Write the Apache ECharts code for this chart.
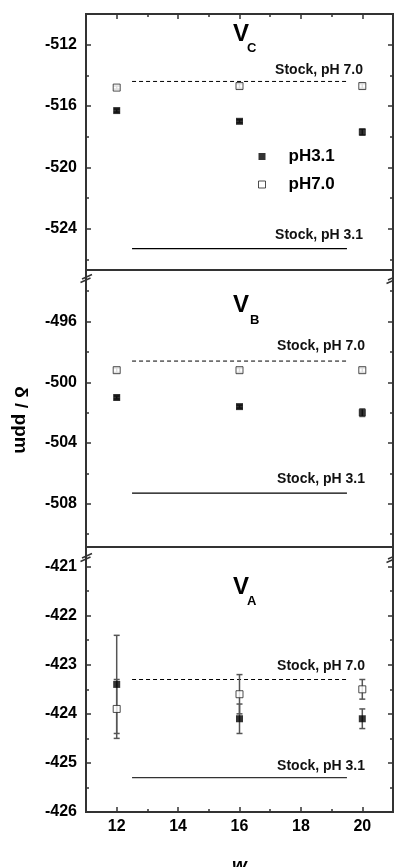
<!DOCTYPE html>
<html><head><meta charset="utf-8">
<script src="https://cdn.jsdelivr.net/npm/echarts@6/dist/echarts.min.js"></script>
<style>html,body{margin:0;padding:0;background:#fff}#c{width:394px;height:867px}</style>
</head><body><div id="c"></div>
<script>
// ---------- data ----------
const w0Values = [12, 16, 20];
const vcPH31 = [-516.3, -517.0, -517.7];
const vcPH31Err = [0.1, 0.1, 0.2];
const vcPH70 = [-514.8, -514.7, -514.7];
const vcPH70Err = [0.1, 0.15, 0.15];
const vbPH31 = [-501.0, -501.6, -502.0];
const vbPH31Err = [0.1, 0.1, 0.25];
const vbPH70 = [-499.2, -499.2, -499.2];
const vbPH70Err = [0.15, 0.15, 0.15];
const vaPH31 = [-423.4, -424.1, -424.1];
const vaPH31Err = [1.0, 0.3, 0.2];
const vaPH70 = [-423.9, -423.6, -423.5];
const vaPH70Err = [0.6, 0.4, 0.2];
const stockPH70 = [-514.4, -498.6, -423.3];
const stockPH31 = [-525.3, -507.3, -425.3];
const stockSpan = [12.5, 19.5];
const xTicks = [12, 14, 16, 18, 20];
const xMinorTicks = [13, 15, 17, 19];
const xRange = [11, 21];
const yTicksC = [-524, -520, -516, -512];
const yMinorC = [-526, -522, -518, -514];
const yRangeC = [-526.7, -510];
const yTicksB = [-508, -504, -500, -496];
const yMinorB = [-510, -506, -502, -498, -494];
const yRangeB = [-510.85, -492.6];
const yTicksA = [-426, -425, -424, -423, -422, -421];
const yMinorA = [-425.5, -424.5, -423.5, -422.5, -421.5];
const yRangeA = [-426, -420.6];
const panelLetters = ['C', 'B', 'A'];
const seriesNames = ['pH3.1', 'pH7.0'];
const stockLabels = ['Stock, pH 7.0', 'Stock, pH 3.1'];
const xTitle = 'w';
const xTitleSub = '0';
const yTitle = 'δ / ppm';

// ---------- layout / style ----------
const FONT = '"Liberation Sans", Arial, Helvetica, sans-serif';
const AX = '#333';
const panels = [
  {ph31: vcPH31, ph31Err: vcPH31Err, ph70: vcPH70, ph70Err: vcPH70Err, yRange: yRangeC, yTicks: yTicksC, yMinor: yMinorC,
   grid: {top: 14, height: 256}, vPos: [233, 34, 247, 48], stockTxt: [70, 235], stockRight: 363},
  {ph31: vbPH31, ph31Err: vbPH31Err, ph70: vbPH70, ph70Err: vbPH70Err, yRange: yRangeB, yTicks: yTicksB, yMinor: yMinorB,
   grid: {top: 270, height: 277}, vPos: [233, 305, 250, 320], stockTxt: [346, 479], stockRight: 365},
  {ph31: vaPH31, ph31Err: vaPH31Err, ph70: vaPH70, ph70Err: vaPH70Err, yRange: yRangeA, yTicks: yTicksA, yMinor: yMinorA,
   grid: {top: 547, height: 265}, vPos: [233, 587, 247, 601], stockTxt: [666, 766], stockRight: 365}
];

const grids = panels.map(p => ({
  left: 86, width: 307, top: p.grid.top, height: p.grid.height,
  show: true, borderColor: AX, borderWidth: 2, backgroundColor: 'transparent',
  containLabel: false, outerBoundsMode: 'none'
}));

const tickStyle = {color: AX, width: 1.5};
function xAx(gi, extra) {
  return Object.assign({
    type: 'value', gridIndex: gi, min: xRange[0], max: xRange[1],
    axisLine: {show: false}, splitLine: {show: false},
    axisTick: {show: false}, axisLabel: {show: false}
  }, extra);
}
function yAx(gi, p, extra) {
  return Object.assign({
    type: 'value', gridIndex: gi, min: p.yRange[0], max: p.yRange[1],
    axisLine: {show: false}, splitLine: {show: false},
    axisTick: {show: false}, axisLabel: {show: false}
  }, extra);
}

const xAxes = [];
panels.forEach((p, i) => {
  if (i === 2) {
    xAxes.push(xAx(i, {
      position: 'bottom',
      axisTick: {show: true, inside: true, length: 5, customValues: xTicks, lineStyle: tickStyle},
      axisLabel: {show: true, customValues: xTicks, margin: 7, color: '#000', fontSize: 16, fontWeight: 'bold', fontFamily: FONT}
    }));
  } else {
    xAxes.push(xAx(i, {position: 'bottom'}));
  }
});
xAxes.push(xAx(2, {position: 'bottom', axisTick: {show: true, inside: true, length: 3, customValues: xMinorTicks, lineStyle: tickStyle}}));
xAxes.push(xAx(0, {position: 'top', axisTick: {show: true, inside: true, length: 5, customValues: xTicks, lineStyle: tickStyle}}));
xAxes.push(xAx(0, {position: 'top', axisTick: {show: true, inside: true, length: 3, customValues: xMinorTicks, lineStyle: tickStyle}}));

const yAxes = [];
panels.forEach((p, i) => {
  yAxes.push(yAx(i, p, {
    position: 'left',
    axisTick: {show: true, inside: true, length: 5, customValues: p.yTicks, lineStyle: tickStyle},
    axisLabel: {show: true, customValues: p.yTicks, margin: 9, color: '#000', fontSize: 16, fontWeight: 'bold', fontFamily: FONT}
  }));
});
panels.forEach((p, i) => {
  yAxes.push(yAx(i, p, {position: 'left', axisTick: {show: true, inside: true, length: 3, customValues: p.yMinor, lineStyle: tickStyle}}));
  yAxes.push(yAx(i, p, {position: 'right', axisTick: {show: true, inside: true, length: 5, customValues: p.yTicks, lineStyle: tickStyle}}));
  yAxes.push(yAx(i, p, {position: 'right', axisTick: {show: true, inside: true, length: 3, customValues: p.yMinor, lineStyle: tickStyle}}));
});

function errSeries(i, vals, errs, nm) {
  return {
    type: 'custom', name: nm, xAxisIndex: i, yAxisIndex: i, silent: true, z: 2,
    data: w0Values.map((x, k) => [x, vals[k], errs[k]]),
    renderItem(params, api) {
      const x = api.value(0), y = api.value(1), e = api.value(2);
      const hi = api.coord([x, y + e]), lo = api.coord([x, y - e]);
      const cw = 3, st = {stroke: '#555', lineWidth: 1.5};
      return {type: 'group', children: [
        {type: 'line', shape: {x1: hi[0], y1: hi[1], x2: lo[0], y2: lo[1]}, style: st},
        {type: 'line', shape: {x1: hi[0] - cw, y1: hi[1], x2: hi[0] + cw, y2: hi[1]}, style: st},
        {type: 'line', shape: {x1: lo[0] - cw, y1: lo[1], x2: lo[0] + cw, y2: lo[1]}, style: st}
      ]};
    }
  };
}

const series = [];
panels.forEach((p, i) => {
  series.push({
    type: 'line', name: 'stock70_' + i, xAxisIndex: i, yAxisIndex: i, silent: true, symbol: 'none', z: 1,
    data: stockSpan.map(x => [x, stockPH70[i]]),
    lineStyle: {color: '#000', width: 1, type: [4, 3]}
  });
  series.push({
    type: 'line', name: 'stock31_' + i, xAxisIndex: i, yAxisIndex: i, silent: true, symbol: 'none', z: 1,
    data: stockSpan.map(x => [x, stockPH31[i]]),
    lineStyle: {color: i === 2 ? '#333' : '#000', width: 1.2}
  });
  series.push(errSeries(i, p.ph31, p.ph31Err, 'err31_' + i));
  series.push(errSeries(i, p.ph70, p.ph70Err, 'err70_' + i));
  series.push({
    type: 'scatter', name: seriesNames[0], xAxisIndex: i, yAxisIndex: i, symbol: 'rect', symbolSize: 7, z: 3,
    data: w0Values.map((x, k) => [x, p.ph31[k]]),
    itemStyle: {color: '#000'}
  });
  series.push({
    type: 'scatter', name: seriesNames[1], xAxisIndex: i, yAxisIndex: i, symbol: 'rect', symbolSize: 7, z: 3,
    data: w0Values.map((x, k) => [x, p.ph70[k]]),
    itemStyle: {color: '#fff', borderColor: '#222', borderWidth: 1}
  });
});

const graphics = [];
panels.forEach((p, i) => {
  graphics.push({type: 'text', x: p.vPos[0], y: p.vPos[1], style: {text: 'V', font: 'bold 24px ' + FONT, fill: '#000', verticalAlign: 'middle', align: 'left'}});
  graphics.push({type: 'text', x: p.vPos[2], y: p.vPos[3], style: {text: panelLetters[i], font: 'bold 13px ' + FONT, fill: '#000', verticalAlign: 'middle', align: 'left'}});
  graphics.push({type: 'text', x: p.stockRight, y: p.stockTxt[0], style: {text: stockLabels[0], font: 'bold 14px ' + FONT, fill: '#111', verticalAlign: 'middle', align: 'right'}});
  graphics.push({type: 'text', x: p.stockRight, y: p.stockTxt[1], style: {text: stockLabels[1], font: 'bold 14px ' + FONT, fill: '#111', verticalAlign: 'middle', align: 'right'}});
});
// axis break marks
function breakMark(cx, cy) {
  const st = {stroke: AX, lineWidth: 1.5};
  graphics.push({type: 'line', shape: {x1: cx - 4, y1: cy + 1.5, x2: cx + 6, y2: cy - 3}, style: st});
  graphics.push({type: 'line', shape: {x1: cx - 5.5, y1: cy + 5, x2: cx + 4.5, y2: cy + 0.5}, style: st});
}
breakMark(86, 277.5); breakMark(392, 278.5);
breakMark(86, 556.5); breakMark(392, 557.5);
// axis titles
graphics.push({type: 'text', x: 20, y: 420, rotation: -Math.PI / 2, style: {text: yTitle, font: 'bold 19px ' + FONT, fill: '#000', align: 'center', verticalAlign: 'middle'}});
graphics.push({type: 'text', x: 232, y: 866, style: {text: xTitle, font: 'italic bold 19px ' + FONT, fill: '#000', align: 'left', verticalAlign: 'middle'}});
graphics.push({type: 'text', x: 245, y: 873, style: {text: xTitleSub, font: 'bold 12px ' + FONT, fill: '#000', align: 'left', verticalAlign: 'middle'}});

const chart = echarts.init(document.getElementById('c'), null, {renderer: 'canvas'});
chart.setOption({
  animation: false,
  backgroundColor: '#fff',
  grid: grids,
  xAxis: xAxes,
  yAxis: yAxes,
  legend: {
    left: 253, top: 143, orient: 'vertical', itemWidth: 7, itemHeight: 7, itemGap: 11, selectedMode: false,
    data: [
      {name: seriesNames[0], icon: 'rect', itemStyle: {color: '#000', borderWidth: 0}},
      {name: seriesNames[1], icon: 'rect', itemStyle: {color: '#fff', borderColor: '#222', borderWidth: 1}}
    ],
    textStyle: {fontSize: 17, lineHeight: 17, fontWeight: 'bold', color: '#000', fontFamily: FONT, padding: [0, 0, 0, 18]}
  },
  graphic: graphics,
  series: series
});
</script>
</body></html>
